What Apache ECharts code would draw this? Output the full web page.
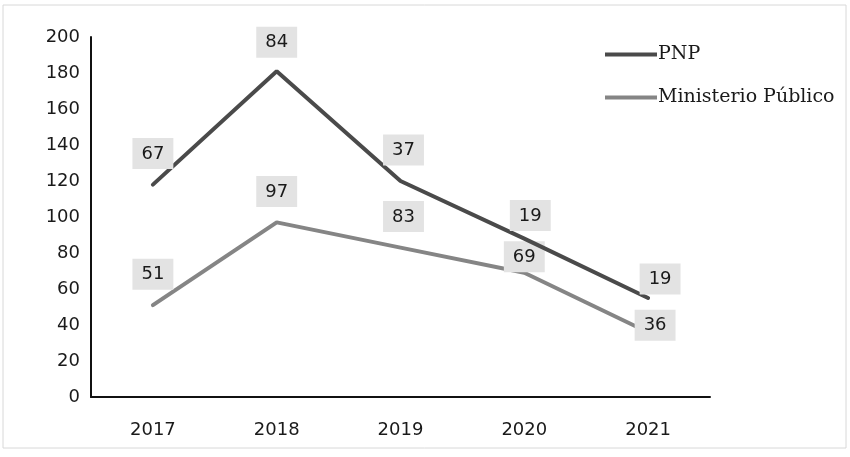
<!DOCTYPE html>
<html><head><meta charset="utf-8">
<script src="https://cdn.jsdelivr.net/npm/echarts@6/dist/echarts.min.js"></script>
<style>html,body{margin:0;padding:0;background:#fff}#c{width:850px;height:457px}</style>
</head><body><div id="c"></div>
<script>
const years = ['2017','2018','2019','2020','2021'];
const pnp = [67, 84, 37, 19, 19];
const ministerio = [51, 97, 83, 69, 36];
const yTicks = [0,20,40,60,80,100,120,140,160,180,200];

// label nudges (layout only)
const pnpOffsets = [[0,0],[0,2],[3,0],[6,8],[12,12]];
const mpOffsets = [[0,0],[0,0],[3,0],[0,15],[7,24]];

const numFont = 'DejaVu Sans, Liberation Sans, sans-serif';
const labelStyle = {
  show: true, position: 'top', distance: 15,
  backgroundColor: '#e3e3e3', padding: [7, 9, 6, 9],
  color: '#1a1a1a', fontSize: 18, fontFamily: numFont
};
function build(vals, offs){
  return vals.map((v,i)=>({value:v, label:{offset:offs[i]}}));
}
const chart = echarts.init(document.getElementById('c'));
chart.setOption({
  backgroundColor: '#ffffff',
  animation: false,
  graphic: [{type:'rect', shape:{x:3,y:5,width:843,height:443}, style:{fill:'none', stroke:'#d8d8d8', lineWidth:1}}],
  grid: {left: 91, right: 140, top: 37, bottom: 60},
  legend: {
    orient: 'vertical', left: 600, top: 40, itemGap: 24,
    itemWidth: 52, itemHeight: 4, icon: 'rect',
    data: ['PNP', 'Ministerio Público'],
    textStyle: {fontSize: 19, color: '#1a1a1a', fontFamily: 'DejaVu Serif, Liberation Serif, serif', padding:[0,0,0,-4]}
  },
  xAxis: {
    type: 'category', data: years, boundaryGap: true,
    axisLine: {lineStyle: {color: '#111', width: 2}},
    axisTick: {show: false},
    axisLabel: {fontSize: 18, color: '#1a1a1a', margin: 24, fontFamily: numFont}
  },
  yAxis: {
    type: 'value', min: 0, max: 200, interval: 20,
    axisLine: {show: true, lineStyle: {color: '#111', width: 2}},
    axisTick: {show: false},
    splitLine: {show: false},
    axisLabel: {fontSize: 18, color: '#1a1a1a', margin: 11, fontFamily: numFont,
      formatter: v => yTicks.includes(v) ? String(v) : ''}
  },
  series: [
    {name: 'Ministerio Público', type: 'line', stack: 'total',
     data: build(ministerio, mpOffsets),
     symbol: 'circle', symbolSize: 1,
     itemStyle: {color: '#858585'},
     lineStyle: {color: '#858585', width: 4, cap: 'round'},
     label: labelStyle, z: 2},
    {name: 'PNP', type: 'line', stack: 'total',
     data: build(pnp, pnpOffsets),
     symbol: 'circle', symbolSize: 1,
     itemStyle: {color: '#4a4a4a'},
     lineStyle: {color: '#4a4a4a', width: 4, cap: 'round'},
     label: labelStyle, z: 3}
  ]
});
</script></body></html>
